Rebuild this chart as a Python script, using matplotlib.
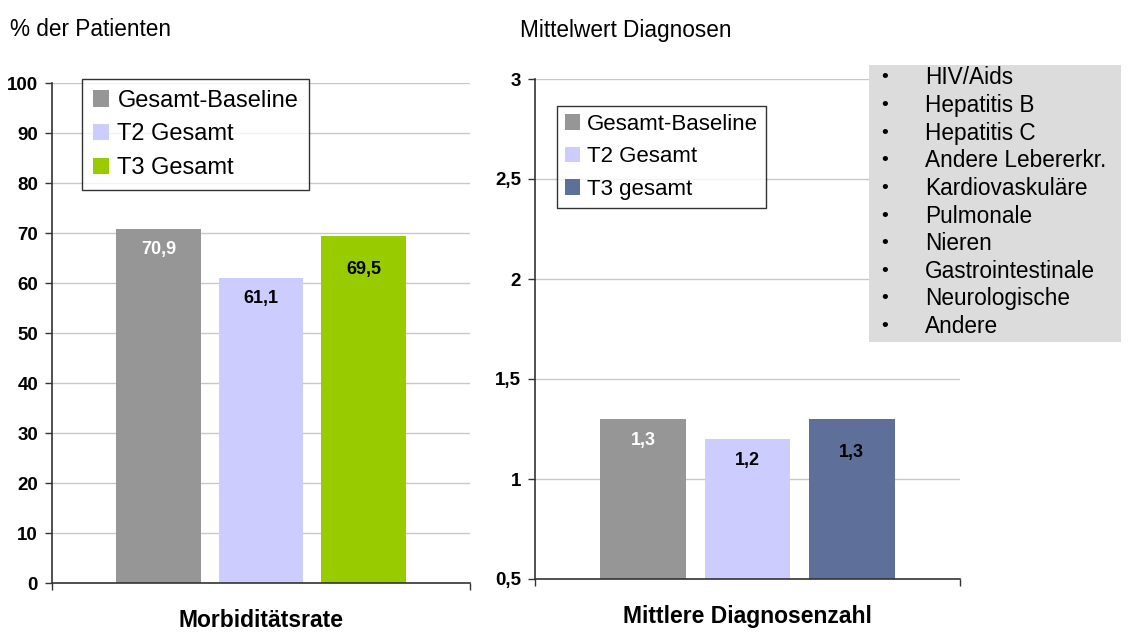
import matplotlib
matplotlib.use("Agg")
import matplotlib.pyplot as plt
from matplotlib.patches import Rectangle

plt.rcParams['font.family'] = ['Liberation Sans', 'DejaVu Sans']

# ---- data ----
series_left = ["Gesamt-Baseline", "T2 Gesamt", "T3 Gesamt"]
morb_values = [70.9, 61.1, 69.5]
series_right = ["Gesamt-Baseline", "T2 Gesamt", "T3 gesamt"]
diag_values = [1.3, 1.2, 1.3]
left_yticks = [0, 10, 20, 30, 40, 50, 60, 70, 80, 90, 100]
right_yticks = [0.5, 1, 1.5, 2, 2.5, 3]
info_items = ["HIV/Aids", "Hepatitis B", "Hepatitis C", "Andere Lebererkr.",
              "Kardiovaskuläre", "Pulmonale", "Nieren", "Gastrointestinale",
              "Neurologische", "Andere"]

colors_left = ["#969696", "#ccccff", "#99cc00"]
colors_right = ["#969696", "#ccccff", "#5e7099"]
label_colors = ["white", "black", "black"]
# value-label drop below bar top (pixels)
label_drop_px = [21, 21, 34]

W, H = 1129, 641
fig = plt.figure(figsize=(W / 100, H / 100), dpi=100)
fig.patch.set_facecolor("white")


def px_axes(x0, y0, x1, y1):
    return fig.add_axes([x0 / W, 1 - y1 / H, (x1 - x0) / W, (y1 - y0) / H])


def fmt(v):
    return f"{v:.1f}".replace(".", ",")


def tick_fmt(v):
    if float(v).is_integer():
        return str(int(v))
    return f"{v}".replace(".", ",")


def style_axes(ax, yticks, ylim):
    ax.set_xlim(-0.5, 0.5)
    ax.set_ylim(*ylim)
    ax.set_yticks(yticks)
    ax.set_yticklabels([tick_fmt(t) for t in yticks], fontsize=13.5, fontweight="bold")
    ax.set_xticks([-0.5, 0.5])
    ax.set_xticklabels(["", ""])
    ax.tick_params(axis="both", direction="out", length=5, width=1, color="#333333")
    ax.tick_params(axis="y", pad=5)
    for s in ["top", "right"]:
        ax.spines[s].set_visible(False)
    for s in ["left", "bottom"]:
        ax.spines[s].set_color("#333333")
        ax.spines[s].set_linewidth(1.2)
    ax.yaxis.grid(True, color="#c8c8c8", linewidth=1)
    ax.set_axisbelow(True)


offsets = [-0.245, 0.0, 0.245]
bw = 0.202

# ---- left chart ----
ax1 = px_axes(52, 83, 470, 583)
style_axes(ax1, left_yticks, (0, 100))
upp1 = 100 / 500
for i, (lab, v) in enumerate(zip(series_left, morb_values)):
    ax1.bar(offsets[i], v, width=bw, color=colors_left[i], label=lab)
    ax1.text(offsets[i], v - label_drop_px[i] * upp1, fmt(v), ha="center", va="center",
             fontsize=13, fontweight="bold", color=label_colors[i])
ax1.set_xlabel("Morbiditätsrate", fontsize=16.5, fontweight="bold", labelpad=10)
leg1 = ax1.legend(loc="upper left", bbox_to_anchor=((82 - 52) / 418, 1 + 4 / 500),
                  fontsize=17, frameon=True, fancybox=False, edgecolor="black",
                  handlelength=0.7, handleheight=0.7, handletextpad=0.35,
                  labelspacing=0.5, borderpad=0.45, borderaxespad=0)
leg1.get_frame().set_linewidth(1.0)

# ---- right chart ----
ax2 = px_axes(535, 79, 960, 579)
style_axes(ax2, right_yticks, (0.5, 3))
upp2 = 2.5 / 500
for i, (lab, v) in enumerate(zip(series_right, diag_values)):
    ax2.bar(offsets[i], v, width=bw, color=colors_right[i], label=lab)
    ax2.text(offsets[i], v - label_drop_px[i] * upp2, fmt(v), ha="center", va="center",
             fontsize=13, fontweight="bold", color=label_colors[i])
ax2.set_xlabel("Mittlere Diagnosenzahl", fontsize=16.5, fontweight="bold", labelpad=10)
leg2 = ax2.legend(loc="upper left", bbox_to_anchor=((557 - 535) / 425, 1 - (106 - 79) / 500),
                  fontsize=16, frameon=True, fancybox=False, edgecolor="black",
                  handlelength=0.7, handleheight=0.7, handletextpad=0.3,
                  labelspacing=0.52, borderpad=0.35, borderaxespad=0)
leg2.get_frame().set_linewidth(1.0)

# ---- titles ----
fig.text(10 / W, 1 - 30 / H, "% der Patienten", fontsize=16.3, ha="left", va="center")
fig.text(520 / W, 1 - 30 / H, "Mittelwert Diagnosen", fontsize=16.3, ha="left", va="center")

# ---- info box ----
fig.patches.append(Rectangle((869 / W, 1 - 342 / H), (1121 - 869) / W, (342 - 65) / H,
                             transform=fig.transFigure, facecolor="#dcdcdc",
                             edgecolor="none", zorder=5))
y0 = 78
step = 27.6
for k, item in enumerate(info_items):
    yy = 1 - (y0 + k * step) / H
    fig.text(881 / W, yy, "•", fontsize=14, ha="left", va="center", zorder=6)
    fig.text(925 / W, yy, item, fontsize=16.3, ha="left", va="center", zorder=6)

fig.savefig("out.png", dpi=100)
